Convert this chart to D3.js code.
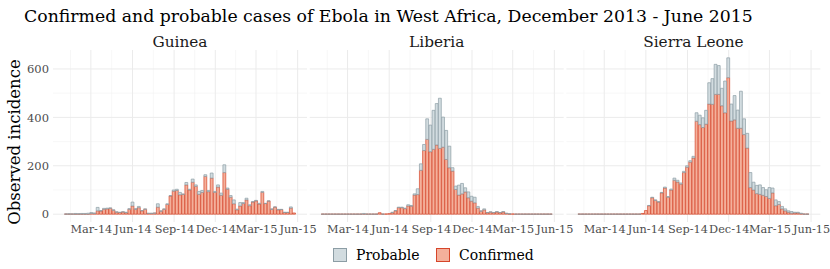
<!DOCTYPE html>
<html>
<head>
<meta charset="utf-8">
<script src="https://cdn.jsdelivr.net/npm/d3@7"></script>
<style>
  body { margin: 0; background: #fff; }
  svg { display: block; }
  text { font-family: "DejaVu Serif", serif; }
</style>
</head>
<body>
<div id="chart"></div>
<script>
// Weekly confirmed / probable cases, weeks starting 2014-01-05
const countries = ["Guinea", "Liberia", "Sierra Leone"];
const firstWeek = new Date(2014, 0, 5);
const nWeeks = 73;

const guineaConfirmed = [0,0,0,0,0,0,0,0,3,3, 14,13,20,22,24,16,8,7,9,6, 20,34,20,27,14,20,3,3,4,29,
  12,20,40,75,95,98,80,82,121,100, 132,115,82,90,156,93,149,90,112,78, 172,103,70,43,18,34,44,59,35,50,
  55,42,90,44,54,20,29,18,19,7, 7,25,5];
const guineaProbable = [1,2,1,3,2,3,3,4,4,2, 14,2,4,3,2,2,2,1,1,2, 3,16,3,5,1,2,1,1,1,14,
  2,2,3,2,5,5,10,1,10,3, 13,6,12,8,7,5,21,4,9,9, 32,5,7,16,3,14,4,7,4,2,
  2,3,4,1,1,2,1,2,1,1, 1,5,0];

const liberiaConfirmed = [0,0,0,0,0,0,0,0,0,0, 0,0,0,0,0,0,0,0,6,0, 1,2,6,14,27,27,23,34,33,79,
  81,181,263,309,258,268,286,272,277,226, 192,178,102,79,84,92,68,54,47,25, 12,18,6,8,6,9,6,9,3,1,
  1,0,0,0,0,0,0,0,0,0, 0,0,0];
const liberiaProbable = [0,0,0,0,0,0,0,0,0,0, 0,0,0,3,0,0,0,0,0,0, 0,0,2,1,2,2,2,5,3,5,
  24,27,25,85,110,161,171,207,124,120, 89,14,14,41,43,17,24,20,23,7, 2,4,1,2,1,2,1,2,1,1,
  0,0,0,0,0,0,0,0,0,0, 0,0,0];

const sierraLeoneConfirmed = [0,0,0,0,0,0,0,0,0,0, 0,0,0,0,0,0,0,0,0,0, 3,15,35,68,57,50,88,108,70,100,
  140,133,124,172,194,215,232,384,370,358, 372,455,454,495,495,448,419,564,385,390, 355,355,329,273,110,100,85,82,78,73,
  65,88,35,40,22,14,8,4,5,5, 2,0,0];
const sierraLeoneProbable = [0,0,0,0,0,0,0,0,0,0, 0,0,0,0,0,0,0,0,0,0, 0,0,1,2,2,2,2,4,3,4,
  9,7,5,5,6,6,7,35,39,40, 57,88,106,124,119,72,131,82,70,100, 75,153,65,61,62,32,34,39,32,28,
  45,20,24,12,10,8,6,7,3,3, 2,0,0];

const tickDates = ["2014-03-01", "2014-06-01", "2014-09-01", "2014-12-01", "2015-03-01", "2015-06-01"];
const tickLabels = ["Mar-14", "Jun-14", "Sep-14", "Dec-14", "Mar-15", "Jun-15"];
const yTicks = [0, 200, 400, 600];

const confirmedByCountry = [guineaConfirmed, liberiaConfirmed, sierraLeoneConfirmed];
const probableByCountry = [guineaProbable, liberiaProbable, sierraLeoneProbable];

const width = 830, height = 269;
const panelLeft = 53, panelTop = 50, panelW = 254, panelH = 172, panelGap = 2.7;

const fillConf = "#f4b09b", strokeConf = "#d6452a";
const fillProb = "#d2dce0", strokeProb = "#8c9da5";

const DAY = 864e5;
const weeks = d3.range(nWeeks).map(i => new Date(+firstWeek + i * 7 * DAY));
const barDays = 6.3;

// x domain: bar extent expanded 5% each side
const lo = +weeks[0] - barDays / 2 * DAY, hi = +weeks[nWeeks - 1] + barDays / 2 * DAY;
const pad = (hi - lo) * 0.05;
const x = d3.scaleTime().domain([new Date(lo - pad), new Date(hi + pad)]).range([0, panelW]);

const maxTotal = d3.max(confirmedByCountry.flatMap((c, k) => c.map((v, i) => v + probableByCountry[k][i])));
const y = d3.scaleLinear().domain([-maxTotal * 0.05, maxTotal * 1.05]).range([panelH, 0]);

const svg = d3.select("#chart").append("svg")
  .attr("width", width).attr("height", height);

// Title
svg.append("text")
  .attr("x", 24).attr("y", 22)
  .style("font-size", "17.3px")
  .attr("fill", "#000")
  .text("Confirmed and probable cases of Ebola in West Africa, December 2013 - June 2015");

// Y axis title
svg.append("text")
  .attr("transform", "translate(20,142) rotate(-90)")
  .attr("text-anchor", "middle")
  .style("font-size", "16.5px")
  .text("Observed incidence");

const majorX = tickDates.map(d => new Date(d + "T00:00:00"));
const minorX = [new Date(2014, 0, 15)].concat(majorX.slice(1).map((d, i) => new Date((+d + +majorX[i]) / 2)));
const minorY = [100, 300, 500];

const barPath = (x0, w, y0, y1) => "M" + x0 + "," + y0 + "V" + y1 + "H" + (x0 + w) + "V" + y0 + "Z";

countries.forEach((name, k) => {
  const g = svg.append("g")
    .attr("transform", "translate(" + (panelLeft + k * (panelW + panelGap)) + "," + panelTop + ")");

  // grid
  g.selectAll(".ymin").data(minorY).enter().append("line")
    .attr("x1", 0).attr("x2", panelW).attr("y1", d => y(d)).attr("y2", d => y(d))
    .attr("stroke", "#f2f2f2").attr("stroke-width", 0.6);
  g.selectAll(".xmin").data(minorX).enter().append("line")
    .attr("y1", 0).attr("y2", panelH).attr("x1", d => x(d)).attr("x2", d => x(d))
    .attr("stroke", "#f2f2f2").attr("stroke-width", 0.6);
  g.selectAll(".ymaj").data(yTicks).enter().append("line")
    .attr("x1", 0).attr("x2", panelW).attr("y1", d => y(d)).attr("y2", d => y(d))
    .attr("stroke", "#ebebeb").attr("stroke-width", 1);
  g.selectAll(".xmaj").data(majorX).enter().append("line")
    .attr("y1", 0).attr("y2", panelH).attr("x1", d => x(d)).attr("x2", d => x(d))
    .attr("stroke", "#ebebeb").attr("stroke-width", 1);

  // facet label
  svg.append("text")
    .attr("x", panelLeft + k * (panelW + panelGap) + panelW / 2)
    .attr("y", 47)
    .attr("text-anchor", "middle")
    .style("font-size", "15.3px")
    .attr("fill", "#1a1a1a")
    .text(name);

  const data = weeks.map((d, i) => ({
    date: d,
    c: confirmedByCountry[k][i],
    p: probableByCountry[k][i]
  }));
  const bw = x(new Date(+weeks[0] + barDays * DAY)) - x(weeks[0]);

  // confirmed (bottom of stack)
  g.selectAll(".conf").data(data).enter().append("path")
    .attr("d", d => barPath(x(d.date) - bw / 2, bw, y(0), y(d.c)))
    .attr("fill", fillConf).attr("stroke", strokeConf).attr("stroke-width", 0.7);

  // probable (stacked on top)
  g.selectAll(".prob").data(data.filter(d => d.p > 0 || d.c === 0)).enter().append("path")
    .attr("d", d => barPath(x(d.date) - bw / 2, bw, y(d.c), y(d.c + d.p)))
    .attr("fill", fillProb).attr("stroke", strokeProb).attr("stroke-width", 0.7);

  // x axis labels
  const xAxis = g.append("g")
    .attr("transform", "translate(0," + panelH + ")")
    .call(d3.axisBottom(x).tickValues(majorX).tickFormat((d, i) => tickLabels[i]).tickSize(0).tickPadding(3));
  xAxis.select(".domain").remove();
  xAxis.selectAll("text").style("font-size", "11.3px").attr("fill", "#4d4d4d")
    .style("font-family", "DejaVu Serif");

  if (k === 0) {
    const yAxis = g.append("g")
      .call(d3.axisLeft(y).tickValues(yTicks).tickSize(0).tickPadding(4));
    yAxis.select(".domain").remove();
    yAxis.selectAll("text").style("font-size", "11.5px").attr("fill", "#4d4d4d")
      .style("font-family", "DejaVu Serif");
  }
});

// Legend
const legend = svg.append("g").attr("transform", "translate(333,248)");
const legendItems = [
  { label: "Probable", fill: fillProb, stroke: strokeProb, x: 0 },
  { label: "Confirmed", fill: fillConf, stroke: strokeConf, x: 103 }
];
legendItems.forEach(it => {
  legend.append("rect")
    .attr("x", it.x + 0.5).attr("y", 0.5).attr("width", 13).attr("height", 13)
    .attr("fill", it.fill).attr("stroke", it.stroke).attr("stroke-width", 1);
  legend.append("text")
    .attr("x", it.x + 23).attr("y", 11.5)
    .style("font-size", "14px")
    .text(it.label);
});
</script>
</body>
</html>
